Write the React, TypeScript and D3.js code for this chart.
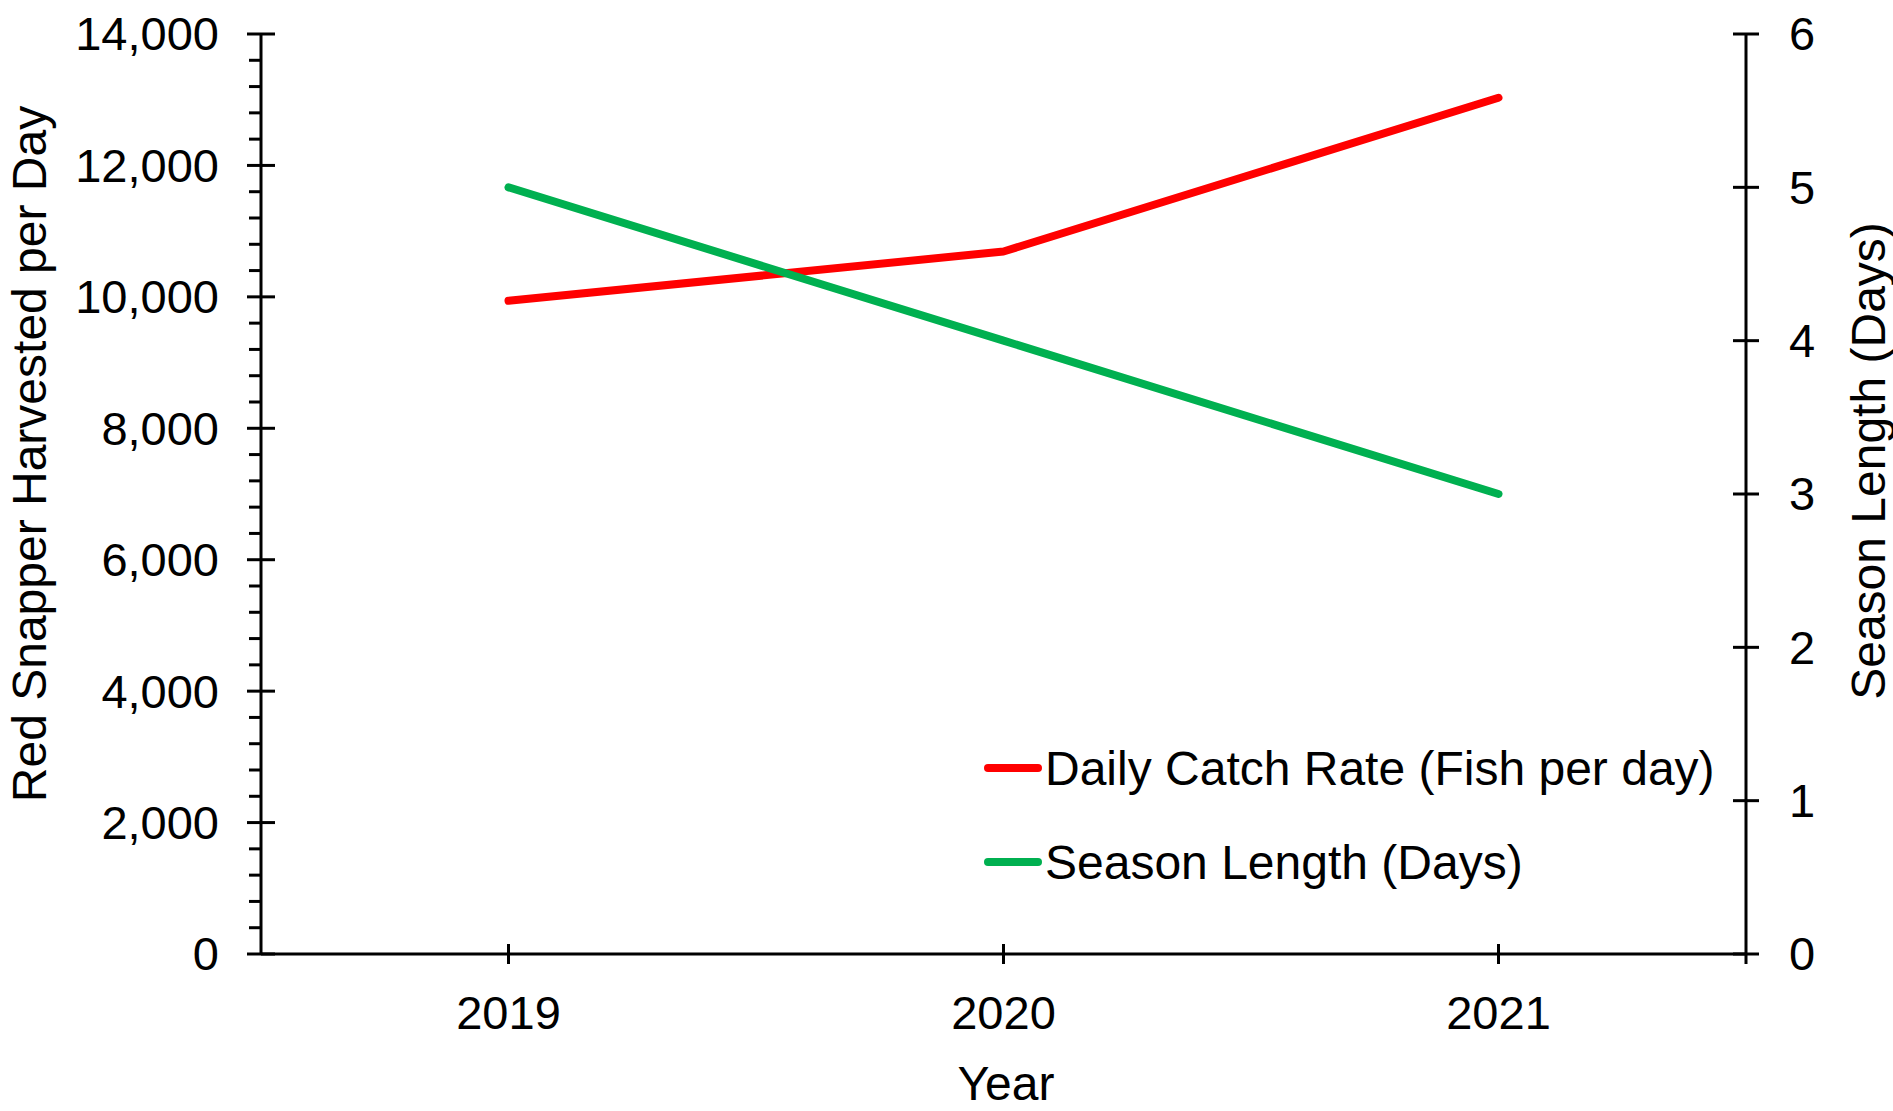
import React from "react";
import * as d3 from "d3";

const years = ["2019", "2020", "2021"];
const catchRate = [9940, 10690, 13030];
const seasonDays = [5, 4, 3];
const leftTicks = [0, 2000, 4000, 6000, 8000, 10000, 12000, 14000];
const rightTicks = [0, 1, 2, 3, 4, 5, 6];
const seriesNames = ["Daily Catch Rate (Fish per day)", "Season Length (Days)"];
const seriesColors = ["#ff0000", "#00b050"];

const W = 1893;
const H = 1111;
const margin = { top: 34, right: 147, bottom: 157, left: 261 };
const FONT = "'Liberation Sans', Arial, sans-serif";

export default function App() {
  const x = d3.scaleBand().domain(years).range([margin.left, W - margin.right]);
  const yL = d3.scaleLinear().domain([0, 14000]).range([H - margin.bottom, margin.top]);
  const yR = d3.scaleLinear().domain([0, 6]).range([H - margin.bottom, margin.top]);
  const cx = (d: string) => x(d)! + x.bandwidth() / 2;

  const lineL = d3.line<number>().x((_, i) => cx(years[i])).y(d => yL(d));
  const lineR = d3.line<number>().x((_, i) => cx(years[i])).y(d => yR(d));

  const x0 = margin.left;
  const x1 = W - margin.right;
  const yBase = H - margin.bottom;
  const minor = d3.range(0, 14001, 400).filter(v => v % 2000 !== 0);

  // legend
  const legX = 988;
  const legY = 768;
  const legGap = 94;

  return (
    <svg
      width={W}
      height={H}
      style={{ position: "absolute", left: 0, top: 0, background: "#fff", overflow: "hidden" }}
      fontFamily={FONT}
    >
      {/* left axis */}
      <g stroke="#000" strokeWidth={3}>
        <line x1={x0} x2={x0} y1={margin.top} y2={yBase} />
        {leftTicks.map(t => (
          <line key={t} x1={x0 - 14} x2={x0 + 14} y1={yL(t)} y2={yL(t)} />
        ))}
        {minor.map(t => (
          <line key={t} x1={x0 - 12} x2={x0} y1={yL(t)} y2={yL(t)} />
        ))}
      </g>
      {leftTicks.map(t => (
        <text key={t} x={x0 - 42} y={yL(t)} dy="0.35em" textAnchor="end" fontSize={47}>
          {d3.format(",")(t)}
        </text>
      ))}

      {/* right axis */}
      <g stroke="#000" strokeWidth={3}>
        <line x1={x1} x2={x1} y1={margin.top} y2={yBase + 10} />
        {rightTicks.map(t => (
          <line key={t} x1={x1 - 13} x2={x1 + 13} y1={yR(t)} y2={yR(t)} />
        ))}
      </g>
      {rightTicks.map(t => (
        <text key={t} x={x1 + 43} y={yR(t)} dy="0.35em" textAnchor="start" fontSize={47}>
          {t}
        </text>
      ))}

      {/* x axis */}
      <g stroke="#000" strokeWidth={3}>
        <line x1={x0} x2={x1} y1={yBase} y2={yBase} />
        {years.map(yr => (
          <line key={yr} x1={cx(yr)} x2={cx(yr)} y1={yBase - 10} y2={yBase + 10} />
        ))}
      </g>
      {years.map(yr => (
        <text key={yr} x={cx(yr)} y={yBase + 75} textAnchor="middle" fontSize={47}>
          {yr}
        </text>
      ))}

      {/* axis titles */}
      <text x={1006} y={1100} textAnchor="middle" fontSize={48}>Year</text>
      <text transform="translate(46,454) rotate(-90)" textAnchor="middle" fontSize={48}>
        Red Snapper Harvested per Day
      </text>
      <text transform="translate(1885,461) rotate(-90)" textAnchor="middle" fontSize={48}>
        Season Length (Days)
      </text>

      {/* series */}
      <path d={lineL(catchRate)!} fill="none" stroke={seriesColors[0]} strokeWidth={8} strokeLinecap="round" strokeLinejoin="round" />
      <path d={lineR(seasonDays)!} fill="none" stroke={seriesColors[1]} strokeWidth={8} strokeLinecap="round" strokeLinejoin="round" />

      {/* legend */}
      {seriesNames.map((name, i) => (
        <g key={name} transform={`translate(${legX},${legY + i * legGap})`}>
          <line x1={0} x2={50} y1={0} y2={0} stroke={seriesColors[i]} strokeWidth={8} strokeLinecap="round" />
          <text x={57} y={0} dy="0.35em" fontSize={48}>{name}</text>
        </g>
      ))}
    </svg>
  );
}
